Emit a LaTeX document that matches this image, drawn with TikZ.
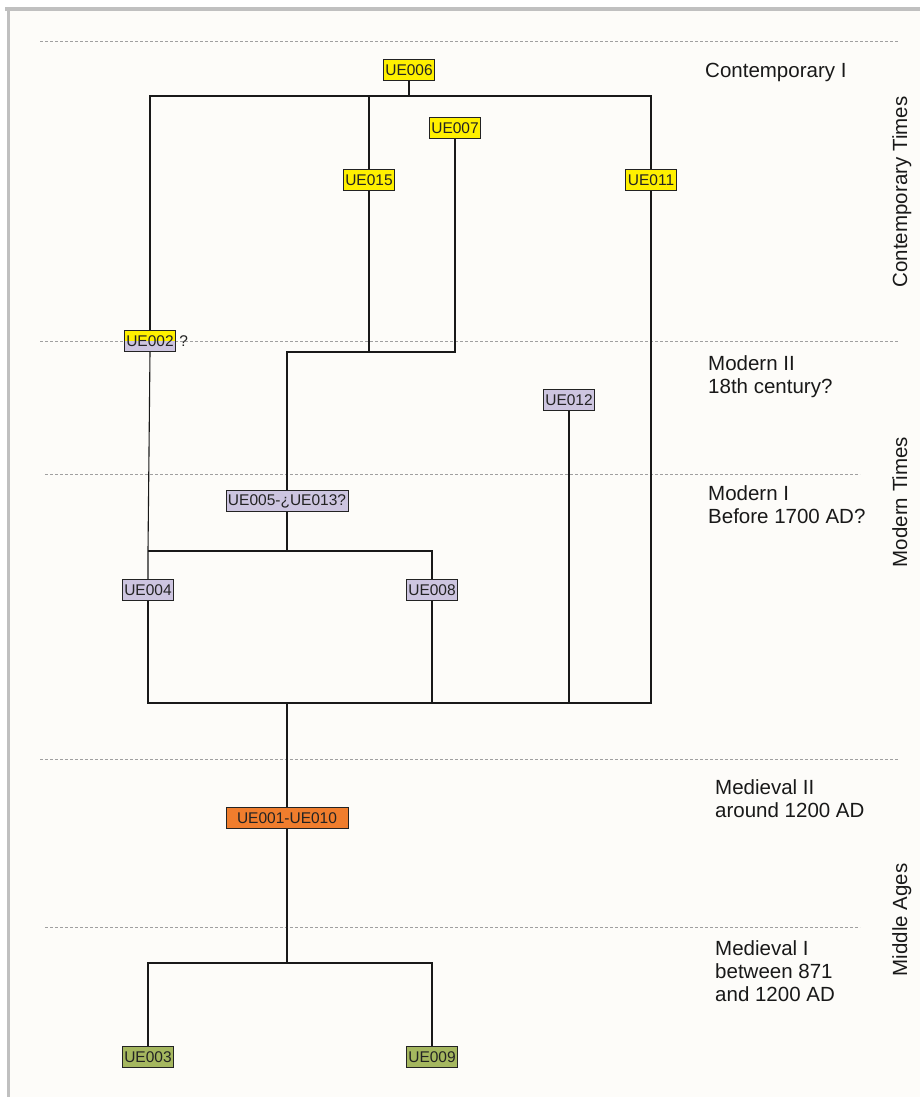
\documentclass[tikz,border=0pt]{standalone}
\usepackage{fontspec}
\setmainfont{Liberation Sans}
\definecolor{bgc}{RGB}{253,252,249}
\definecolor{framegray}{RGB}{192,192,192}
\definecolor{sepgray}{RGB}{160,160,160}
\definecolor{uyellow}{RGB}{255,240,0}
\definecolor{ulav}{RGB}{205,197,224}
\definecolor{uorange}{RGB}{240,125,45}
\definecolor{ugreen}{RGB}{165,183,95}
\definecolor{ink}{RGB}{35,35,35}
\tikzset{
  ue/.style={draw=ink, line width=0.8pt, inner xsep=2pt, inner ysep=0pt,
    minimum height=21pt, text=ink, font=\fontsize{15.5}{15.5}\selectfont},
  ylw/.style={ue, fill=uyellow},
  lav/.style={ue, fill=ulav},
  org/.style={ue, fill=uorange},
  grn/.style={ue, fill=ugreen},
  split/.style={ue, path picture={
      \fill[uyellow] (path picture bounding box.north west) rectangle (path picture bounding box.east);
      \fill[ulav] (path picture bounding box.west) rectangle (path picture bounding box.south east);}},
  conn/.style={draw=black!90, line width=1.1pt},
  sepline/.style={draw=sepgray, line width=1pt, dash pattern=on 3pt off 2pt},
  lab/.style={anchor=base west, align=left, inner sep=0pt, text=black!90,
    font=\fontsize{20.5}{23}\selectfont},
  era/.style={anchor=base, rotate=90, inner sep=0pt, text=black!90,
    font=\fontsize{20.5}{23}\selectfont}
}
\begin{document}
\begin{tikzpicture}[x=1pt,y=-1pt]
\useasboundingbox (0,0) rectangle (920,1097);
\fill[white] (0,0) rectangle (920,1097);
\fill[bgc] (10,11) rectangle (920,1097);
\fill[framegray] (5,7) rectangle (920,11);
\fill[framegray] (7,7) rectangle (10,1097);

% period separators
\draw[sepline] (40,42) -- (898,42);
\draw[sepline] (40,341) -- (898,341);
\draw[sepline] (45,474) -- (860,474);
\draw[sepline] (40,759) -- (898,759);
\draw[sepline] (45,927) -- (860,927);

% units
\node[ylw] (UE006) at (409,70) {UE006};
\node[ylw] (UE007) at (455,128) {UE007};
\node[ylw] (UE015) at (369,180) {UE015};
\node[ylw] (UE011) at (651,180) {UE011};
\node[split] (UE002) at (150,341) {UE002};
\node[anchor=west, inner sep=0pt, text=ink, font=\fontsize{15.5}{15.5}\selectfont] (q2) at ([xshift=3pt]UE002.east) {?};
\node[lav] (UE012) at (569,400) {UE012};
\node[lav, minimum width=122pt] (UE005) at (287,501) {UE005-¿UE013?};
\node[lav] (UE004) at (148,590) {UE004};
\node[lav] (UE008) at (432,590) {UE008};
\node[org, minimum width=122pt] (UE001) at (287,818) {UE001-UE010};
\node[grn] (UE003) at (148,1057) {UE003};
\node[grn] (UE009) at (432,1057) {UE009};

% connectors
\coordinate (t6) at (409,96);
\coordinate (cL) at (150,96);
\coordinate (cR) at (651,96);
\coordinate (m1) at (287,352);
\coordinate (m2) at (148,551);
\coordinate (b1) at (148,703);
\coordinate (d1) at (148,963);

\draw[conn] (UE006.south) -- (t6);
\draw[conn] (UE002.north) -- (cL) -- (cR) -- (UE011.north);
\draw[conn] (UE015.north) -- (UE015.north |- cL);
\draw[conn] (UE007.south) |- (m1) -- (UE005.north);
\draw[conn] (UE015.south) -- (UE015.south |- m1);
\draw[conn] (UE002.south) -- (m2) -- (UE004.north);
\draw[conn] (m2) -| (UE008.north);
\draw[conn] (UE005.south) -- (UE005.south |- m2);
\draw[conn] (UE004.south) -- (b1) -| (UE011.south);
\draw[conn] (UE008.south) -- (UE008.south |- b1);
\draw[conn] (UE012.south) -- (UE012.south |- b1);
\draw[conn] (UE001.north) -- (UE001.north |- b1);
\draw[conn] (UE001.south) -- (UE001.south |- d1);
\draw[conn] (UE003.north) -- (d1) -| (UE009.north);

% phase labels (base = last line)
\node[lab] (l1) at (705,78) {Contemporary I};
\node[lab] (l2) at (708,393) {Modern II\\18th century?};
\node[lab] (l3) at (708,523) {Modern I\\Before 1700 AD?};
\node[lab] (l4) at (715,817) {Medieval II\\around 1200 AD};
\node[lab] (l5) at (715,1001) {Medieval I\\between 871\\and 1200 AD};

% era labels
\node[era] (e1) at (907,192) {Contemporary Times};
\node[era] (e2) at (907,502) {Modern Times};
\node[era] (e3) at (907,920) {Middle Ages};
\end{tikzpicture}
\end{document}
